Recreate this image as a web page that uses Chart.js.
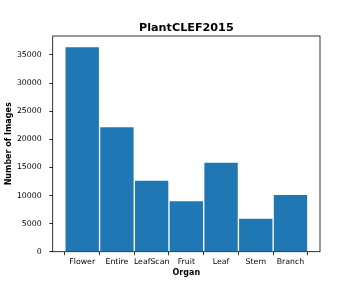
<!DOCTYPE html>
<html><head><meta charset="utf-8">
<script src="https://cdn.jsdelivr.net/npm/chart.js@4/dist/chart.umd.min.js"></script>
<style>html,body{margin:0;padding:0;background:#fff}canvas{display:block}</style>
</head><body>
<canvas id="c" width="360" height="300"></canvas>
<script>
const categories = ["Flower","Entire","LeafScan","Fruit","Leaf","Stem","Branch"];
const counts = [36480, 22250, 12760, 9080, 15960, 6000, 10210];
const yTicks = [0,5000,10000,15000,20000,25000,30000,35000];
const chartTitle = "PlantCLEF2015";

const FONT = "'DejaVu Sans', sans-serif";
const frame = {
  id:'frame',
  afterDatasetsDraw(chart){
    const a = chart.chartArea, ctx = chart.ctx;
    ctx.save(); ctx.strokeStyle='#000'; ctx.lineWidth=0.8;
    ctx.strokeRect(a.left, a.top, a.right-a.left, a.bottom-a.top);
    ctx.fillStyle='#000'; ctx.font="bold 11.2px "+FONT;
    ctx.textAlign='center'; ctx.textBaseline='alphabetic';
    ctx.fillText(chartTitle, (a.left+a.right)/2, a.top-5.3);
    ctx.restore();
  }
};
new Chart(document.getElementById('c'), {
  type:'bar',
  data:{datasets:[{
    data: categories.map((c,i)=>({x:i, y:counts[i]})),
    backgroundColor:'#1f77b4', borderColor:'#ffffff', borderWidth:1,
    categoryPercentage:1, barPercentage:1
  }]},
  options:{
    responsive:false, animation:false, devicePixelRatio:1,
    layout:{padding:{left:0,right:40,top:36,bottom:20}},
    plugins:{ legend:{display:false}, tooltip:{enabled:false}, title:{display:false} },
    scales:{
      x:{type:'linear', min:-0.85, max:6.85, offset:false,
        afterBuildTicks(s){ s.ticks = categories.map((c,i)=>({value:i})); },
        afterFit(s){ s.height = 28.3; },
        ticks:{color:'#000', font:{family:FONT,size:7.8}, padding:2, autoSkip:false, maxRotation:0,
          callback:(v)=>categories[v]},
        grid:{display:true, drawOnChartArea:false, drawTicks:true, tickLength:3.5, color:'#000', lineWidth:0.8},
        border:{display:false},
        title:{display:true, text:'Organ', color:'#000', font:{family:FONT,size:8,weight:'bold'}, padding:{top:0,bottom:2}}
      },
      y:{min:0, max:38380,
        afterBuildTicks(s){ s.ticks = yTicks.map(v=>({value:v})); },
        afterFit(s){ s.width = 52.7; },
        ticks:{color:'#000', font:{family:FONT,size:7.8}, padding:7.5, callback:(v)=>String(v)},
        grid:{display:true, drawOnChartArea:false, drawTicks:true, tickLength:3.5, color:'#000', lineWidth:0.8},
        border:{display:false},
        title:{display:true, text:'Number of Images', color:'#000', font:{family:FONT,size:8,weight:'bold'}, padding:{top:3.7,bottom:0}}
      }
    }
  },
  plugins:[frame]
});
</script>
</body></html>
